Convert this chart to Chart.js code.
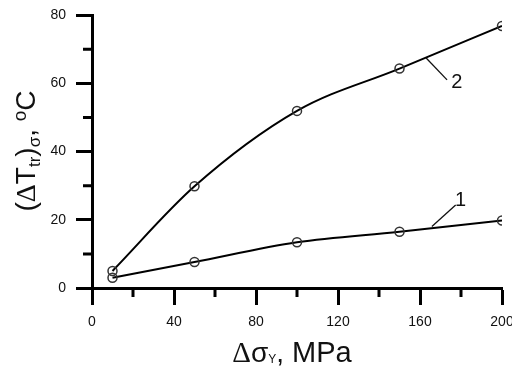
<!DOCTYPE html>
<html>
<head>
<meta charset="UTF-8">
<script src="https://cdn.jsdelivr.net/npm/chart.js@4"></script>
<style>
  body { margin: 0; background: #fff; }
  canvas { display: block; }
</style>
</head>
<body>
<canvas id="chart" width="512" height="367"></canvas>
<script>
// stress increment (MPa) and the two measured curves
const stressX = [10, 50, 100, 150, 200];
const curve1 = [3, 7.6, 13.4, 16.5, 19.8];
const curve2 = [5, 29.8, 51.9, 64.3, 76.8];
const curveNames = ['1', '2'];
const xMajor = [0, 40, 80, 120, 160, 200];
const yMajor = [0, 20, 40, 60, 80];

// leader lines for the curve numbers, in data units
const leaders = [
  { from: [165.8, 18.0], to: [177.4, 24.3], text: [179.8, 25.6] },
  { from: [163.0, 67.4], to: [173.2, 61.0], text: [177.9, 60.2] }
];

const SANS = '"Liberation Sans", Arial, sans-serif';

const extras = {
  id: 'extras',
  afterDraw(chart) {
    const ctx = chart.ctx;
    const xs = chart.scales.x, ys = chart.scales.y;
    const area = chart.chartArea;
    ctx.save();
    // minor ticks
    ctx.strokeStyle = '#000';
    ctx.lineWidth = 3;
    ctx.beginPath();
    for (let v = 20; v < 200; v += 40) {
      const px = xs.getPixelForValue(v);
      ctx.moveTo(px, area.bottom);
      ctx.lineTo(px, area.bottom + 9);
    }
    for (let v = 10; v < 80; v += 20) {
      const py = ys.getPixelForValue(v);
      ctx.moveTo(area.left, py);
      ctx.lineTo(area.left - 9, py);
    }
    ctx.stroke();

    // curve numbers
    ctx.lineWidth = 1.3;
    ctx.strokeStyle = '#111';
    ctx.fillStyle = '#111';
    ctx.font = '20px ' + SANS;
    ctx.textAlign = 'center';
    ctx.textBaseline = 'middle';
    leaders.forEach((l, i) => {
      ctx.beginPath();
      ctx.moveTo(xs.getPixelForValue(l.from[0]), ys.getPixelForValue(l.from[1]));
      ctx.lineTo(xs.getPixelForValue(l.to[0]), ys.getPixelForValue(l.to[1]));
      ctx.stroke();
      ctx.fillText(curveNames[i], xs.getPixelForValue(l.text[0]), ys.getPixelForValue(l.text[1]));
    });

    // axis titles with sub/superscripts
    const big = 28, small = 17;
    const drawRuns = (runs, cx, baseY) => {
      let w = 0;
      runs.forEach(r => { ctx.font = r.size + 'px ' + (r.family || SANS); r.w = ctx.measureText(r.t).width; w += r.w; });
      let x = cx - w / 2;
      ctx.textAlign = 'left';
      ctx.textBaseline = 'alphabetic';
      runs.forEach(r => {
        ctx.font = r.size + 'px ' + (r.family || SANS);
        ctx.fillText(r.t, x, baseY + (r.dy || 0));
        x += r.w;
      });
    };
    ctx.fillStyle = '#111';
    drawRuns([
      { t: 'Δ', size: big + 1, family: '"Liberation Serif", serif' },
      { t: 'σ', size: big },
      { t: 'Y', size: 12, dy: 1 },
      { t: ',', size: big },
      { t: ' MPa', size: big + 1 }
    ], 292, 362);

    ctx.save();
    ctx.translate(35, 151);
    ctx.rotate(-Math.PI / 2);
    drawRuns([
      { t: '(', size: big },
      { t: 'Δ', size: big, family: '"Liberation Serif", serif' },
      { t: 'T', size: big },
      { t: 'tr', size: small, dy: 5 },
      { t: ')', size: big },
      { t: 'σ', size: small, dy: 5 },
      { t: ', ', size: big },
      { t: 'o', size: small + 2, dy: -9 },
      { t: 'C', size: big }
    ], 0, 0);
    ctx.restore();
    ctx.restore();
  }
};

const pointStyle = {
  pointRadius: 4.5,
  pointHoverRadius: 4.5,
  pointBorderWidth: 1.5,
  pointBorderColor: '#333',
  pointBackgroundColor: 'rgba(0,0,0,0)',
  borderColor: '#000',
  borderWidth: 2,
  fill: false,
  cubicInterpolationMode: 'monotone'
};

new Chart(document.getElementById('chart'), {
  type: 'line',
  data: {
    datasets: [
      { label: curveNames[0], data: stressX.map((x, i) => ({ x, y: curve1[i] })), ...pointStyle },
      { label: curveNames[1], data: stressX.map((x, i) => ({ x, y: curve2[i] })), ...pointStyle }
    ]
  },
  options: {
    responsive: false,
    animation: false,
    layout: { padding: { left: 0, top: 15, right: 10, bottom: 0 } },
    plugins: { legend: { display: false }, tooltip: { enabled: false } },
    scales: {
      x: {
        type: 'linear',
        min: 0, max: 200,
        afterFit(s) { s.height = 79; s.paddingLeft = 0; s.paddingRight = 0; },
        border: { width: 3, color: '#000' },
        grid: {
          drawOnChartArea: false,
          tickLength: 17,
          tickWidth: 3,
          tickColor: c => xMajor.includes(c.tick.value) ? '#000' : 'rgba(0,0,0,0)'
        },
        ticks: {
          stepSize: 20,
          padding: 9,
          color: '#111',
          font: { family: SANS, size: 14 },
          maxRotation: 0,
          autoSkip: false,
          callback: v => xMajor.includes(v) ? String(v) : ''
        }
      },
      y: {
        min: 0, max: 80,
        afterFit(s) { s.width = 92; s.paddingTop = 0; s.paddingBottom = 0; },
        border: { width: 3, color: '#000' },
        grid: {
          drawOnChartArea: false,
          tickLength: 16,
          tickWidth: 3,
          tickColor: c => yMajor.includes(c.tick.value) ? '#000' : 'rgba(0,0,0,0)'
        },
        ticks: {
          stepSize: 10,
          padding: 10,
          color: '#111',
          font: { family: SANS, size: 14 },
          autoSkip: false,
          callback: v => yMajor.includes(v) ? String(v) : ''
        }
      }
    }
  },
  plugins: [extras]
});
</script>
</body>
</html>
